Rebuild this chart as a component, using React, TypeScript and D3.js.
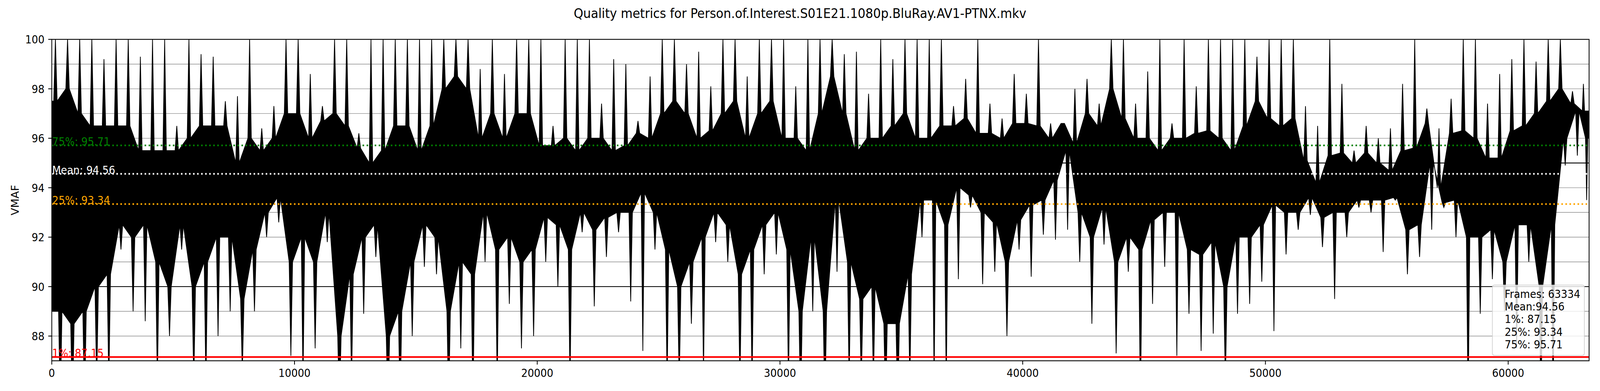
import { line, range, scaleLinear } from "d3";
import { useEffect } from "react";

const W = 4400;
const H = 1000;
const M = { top: 100.7, right: 30, bottom: 77.3, left: 142.4 };
const FONT = "'DejaVu Sans', sans-serif";

const TITLE = "Quality metrics for Person.of.Interest.S01E21.1080p.BluRay.AV1-PTNX.mkv";
const FRAMES = 63334;
const BIN = 500;

// Per 500-frame bin: highest spike, lowest spike, and the solid band.
// Values under 87 are clipped by the axis in the original.
const peakHigh = [
  100, 100, 100, 100, 99.2, 100, 100, 99.3, 100, 100, 96.5, 100, 99.4, 99.3, 97.5, 97.7, 100, 96.4,
  97.3, 100, 100, 98.6, 97.3, 100, 100, 96.2, 100, 100, 100, 100, 100, 100, 100, 100, 100, 98.8,
  100, 98.6, 100, 100, 100, 96.5, 100, 100, 100, 97.4, 99.2, 99, 96.7, 98.5, 100, 100, 99, 99.5,
  98.1, 100, 100, 98.5, 100, 100, 100, 98.1, 100, 100, 100, 99.4, 99.5, 97.8, 100, 99.2, 100, 100,
  100, 100, 97.3, 98.4, 100, 97.4, 96.8, 98.6, 97.8, 100, 96.6, 96.6, 98, 98.4, 97.4, 100, 100, 97.4,
  98.7, 100, 96.6, 100, 98.1, 100, 100, 100, 100, 99.3, 100, 100, 100, 97.3, 96.5, 100, 98.2, 95.5,
  96.5, 96, 96.4, 98.2, 100, 97.2, 96.4, 97.6, 100, 100, 97.4, 98.6, 99.2, 100, 99.1, 100, 100, 97.9,
  98.2,
];
const peakLow = [
  85, 85, 85, 86, 86, 91.5, 89, 88.6, 86, 88, 91.5, 86, 86, 88, 89, 86.5, 89, 92,
  92.6, 87.2, 86, 87.5, 91.8, 85, 86, 88.9, 91.2, 85, 85, 88, 90.8, 90.5, 85, 87.5, 85, 91,
  86, 89.3, 87.5, 88, 91, 90, 86, 92.2, 89.2, 91.2, 92.2, 89.4, 87.4, 91.5, 86, 86, 88.5, 86.5,
  91.8, 91, 86, 86, 90.5, 91.3, 86, 85, 89, 85, 90.6, 86, 86, 86, 85, 85, 86, 92,
  86, 86, 90.3, 93.2, 90.1, 90.6, 88, 91.5, 90.4, 92.1, 91.9, 92.3, 91, 88.5, 91.7, 87.3, 90.6, 85,
  89.3, 90.8, 87.2, 88.9, 87.4, 88.1, 86, 88.9, 89.3, 90.2, 88.2, 91.3, 92.3, 92.9, 91.6, 89.5, 92, 93.2,
  93, 91.4, 93.5, 90.5, 91.2, 92.3, 93.2, 92, 85, 88.9, 90.3, 89, 87.5, 91, 85, 85, 94.9, 95.3,
  93.5,
];
const bandHigh = [
  97.5, 98, 97, 96.5, 96.5, 96.5, 96.5, 95.5, 95.5, 95.5, 95.5, 96, 96.5, 96.5, 96.5, 95, 96, 95.5,
  96, 97, 97, 96, 96.7, 97, 96.5, 95.6, 95, 95.5, 96.5, 96.5, 95.5, 96.5, 98, 98.5, 98, 96,
  97, 96, 97, 97, 95.7, 95.7, 96, 95.5, 96, 96, 95.5, 95.7, 96.2, 96, 97, 97.5, 97, 96,
  96.3, 97, 97.5, 96, 97, 97.5, 96, 96, 95.5, 97, 98.5, 97, 95.5, 96, 96, 96.5, 97, 96,
  96, 96.5, 96.5, 96.8, 96.2, 96.2, 96, 96.6, 96.6, 96.5, 96, 96.6, 95.8, 97, 96.5, 98, 96.8, 96,
  96, 95.5, 96, 96, 96.2, 96.3, 96, 95.5, 96.5, 97.5, 96.8, 96.5, 96.8, 95.1, 94.2, 95.3, 95.4, 95,
  95.4, 95, 94.7, 95.5, 95.6, 96.6, 94, 96.2, 96.3, 96, 95.2, 95.2, 96.3, 96.5, 97, 97.5, 98, 97.4,
  97.1,
];
const bandLow = [
  89, 88.5, 89, 90, 90.5, 92.5, 92, 92.5, 91, 90, 92.5, 90, 91, 92, 92, 89.5, 91.5, 93,
  93.6, 91, 92, 91, 93, 88, 90.5, 92, 92.5, 88, 89, 91, 92.5, 92, 89, 91, 90.5, 93,
  91.5, 92, 91, 91.5, 92.8, 92.5, 91.5, 93, 92.3, 92.8, 93, 93, 93.8, 93, 91.5, 90, 91, 92,
  93, 92.5, 90.5, 91.5, 92.5, 93, 91.5, 89, 92, 89, 93.5, 91, 89.5, 90, 88.5, 88.5, 90.5, 93.5,
  93.5, 92.5, 94, 93.7, 93, 92.6, 91, 92.7, 93.3, 93.5, 94.3, 95.5, 93, 92, 93.2, 91, 92, 91.5,
  92.7, 93, 93, 91.5, 91.3, 91.8, 90, 92, 92, 92.5, 93.3, 93, 93, 93.6, 92.8, 93, 93, 93.5,
  93.5, 93.5, 93.6, 92.3, 92.5, 95, 93.4, 93.5, 92, 92, 92.3, 91, 92.5, 92.5, 90, 92.5, 96, 97.1,
  96,
];

const statNames = ["1%", "25%", "Mean", "75%"];
const statValues = [87.15, 93.34, 94.56, 95.71];
const STAT_COLORS = ["red", "orange", "white", "green"];

const yTicks = [88, 90, 92, 94, 96, 98, 100];
const gridValues = range(88, 100);
const xTicks = [0, 10000, 20000, 30000, 40000, 50000, 60000];

const legendLines = [
  `Frames: ${FRAMES}`,
  `Mean:${statValues[2]}`,
  `1%: ${statValues[0]}`,
  `25%: ${statValues[1]}`,
  `75%: ${statValues[3]}`,
];

type Pt = [number, number];

export default function App() {
  useEffect(() => {
    document.body.style.margin = "0";
    document.body.style.overflow = "hidden";
  }, []);

  const x = scaleLinear().domain([0, FRAMES]).range([M.left, W - M.right]);
  const y = scaleLinear().domain([87, 100]).range([H - M.bottom, M.top]);
  const bins = peakHigh.map((_, i) => {
    const s = i * BIN;
    const e = Math.min(FRAMES, s + BIN);
    return { i, s, e, w: e - s };
  });

  // outline of the dense band with a tapered spike per bin, upper edge then lower edge back
  const upper: Pt[] = [];
  const lower: Pt[] = [];
  bins.forEach((b) => {
    upper.push(
      [b.s + b.w * 0.16, bandHigh[b.i]],
      [b.s + b.w * 0.3, peakHigh[b.i]],
      [b.s + b.w * 0.44, bandHigh[b.i]],
    );
    lower.push(
      [b.s + b.w * 0.56, bandLow[b.i]],
      [b.s + b.w * 0.7, peakLow[b.i]],
      [b.s + b.w * 0.84, bandLow[b.i]],
    );
  });
  upper.unshift([0, bandHigh[0]]);
  upper.push([FRAMES, bandHigh[bins.length - 1]]);
  lower.unshift([0, bandLow[0]]);
  lower.push([FRAMES, bandLow[bins.length - 1]]);
  const outline = [...upper, ...lower.reverse()];
  const trace =
    line<Pt>()
      .x((p) => x(p[0]))
      .y((p) => y(p[1]))(outline) + "Z";

  const x0 = M.left;
  const x1 = W - M.right;
  const yTop = M.top;
  const yBot = H - M.bottom;

  return (
    <svg
      viewBox={`0 0 ${W} ${H}`}
      preserveAspectRatio="none"
      style={{
        position: "absolute",
        left: 0,
        top: 0,
        width: "100vw",
        height: "100vh",
        fontFamily: FONT,
      }}
    >
      <rect width={W} height={H} fill="white" />
      <defs>
        <clipPath id="plot">
          <rect x={x0} y={yTop} width={x1 - x0} height={yBot - yTop} />
        </clipPath>
      </defs>

      <text x={W / 2} y={46} textAnchor="middle" fontSize={33.3}>
        {TITLE}
      </text>

      {gridValues.map((v) => (
        <line
          key={`g${v}`}
          x1={x0}
          x2={x1}
          y1={y(v)}
          y2={y(v)}
          stroke={v % 5 === 0 ? "#000" : "#8c8c8c"}
          strokeWidth={v % 5 === 0 ? 2.2 : 1.4}
        />
      ))}

      <g clipPath="url(#plot)">
        <path d={trace} fill="#000" stroke="#000" strokeWidth={2} strokeLinejoin="miter" />
      </g>

      {statValues.map((v, i) => (
        <g key={`s${i}`}>
          <line
            x1={x0}
            x2={x1}
            y1={y(v)}
            y2={y(v)}
            stroke={STAT_COLORS[i]}
            strokeWidth={4.2}
            strokeDasharray={i === 0 ? undefined : "4.2 6.9"}
          />
          <text x={x0 + 1} y={y(v)} fill={STAT_COLORS[i]} fontSize={27.8}>
            {`${statNames[i]}: ${v}`}
          </text>
        </g>
      ))}

      <rect
        x={x0}
        y={yTop}
        width={x1 - x0}
        height={yBot - yTop}
        fill="none"
        stroke="#000"
        strokeWidth={2.2}
      />

      {yTicks.map((t) => (
        <g key={`y${t}`}>
          <line x1={x0 - 9.7} x2={x0} y1={y(t)} y2={y(t)} stroke="#000" strokeWidth={2.2} />
          <text x={x0 - 20} y={y(t) + 10.5} textAnchor="end" fontSize={27.8}>
            {t}
          </text>
        </g>
      ))}
      {xTicks.map((t) => (
        <g key={`x${t}`}>
          <line x1={x(t)} x2={x(t)} y1={yBot} y2={yBot + 9.7} stroke="#000" strokeWidth={2.2} />
          <text x={x(t)} y={964} textAnchor="middle" fontSize={27.8}>
            {t}
          </text>
        </g>
      ))}
      <text
        transform={`translate(52, ${(yTop + yBot) / 2}) rotate(-90)`}
        textAnchor="middle"
        fontSize={27.8}
      >
        VMAF
      </text>

      <rect
        x={4104}
        y={729}
        width={253}
        height={180}
        rx={5.6}
        fill="white"
        fillOpacity={0.8}
        stroke="#cccccc"
        strokeOpacity={0.8}
        strokeWidth={2.2}
      />
      {legendLines.map((l, i) => (
        <text key={`l${i}`} x={4138} y={761.7 + i * 32.4} fontSize={27.8}>
          {l}
        </text>
      ))}
    </svg>
  );
}
